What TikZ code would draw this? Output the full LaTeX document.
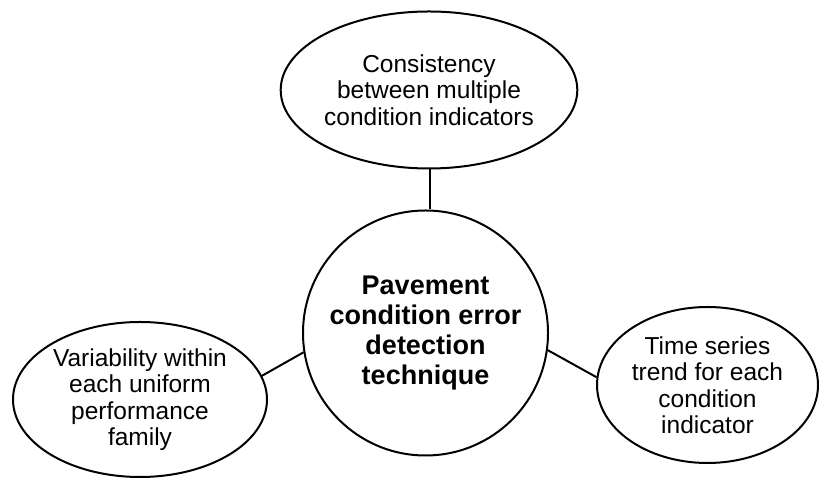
\documentclass[tikz,border=0pt]{standalone}
\usepackage{fontspec}
\setmainfont{Liberation Sans}
\usetikzlibrary{shapes.geometric}

\tikzset{
  outline/.style={draw=black, line width=2pt},
  bubble/.style={outline, ellipse, inner sep=0pt, align=center,
    font=\fontsize{24.5}{26.5}\selectfont},
  hubnode/.style={outline, circle, inner sep=0pt, align=center,
    minimum size=245pt, font=\bfseries\fontsize{27}{30}\selectfont},
  link/.style={outline}
}

\begin{document}
\begin{tikzpicture}[x=1pt, y=1pt]
  \useasboundingbox (0,0) rectangle (819,478);

  % central technique
  \node[hubnode] (hub) at (425.5,145)
    {Pavement\\condition error\\detection\\technique};

  % the three checks around it
  \node[bubble, minimum width=282pt, minimum height=157pt] (consist) at (429,388)
    {Consistency\\between multiple\\condition indicators};
  \node[bubble, minimum width=254pt, minimum height=155pt] (variab) at (140,78.5)
    {Variability within\\each uniform\\performance\\family};
  \node[bubble, minimum width=221pt, minimum height=156pt] (trend) at (707.5,93)
    {Time series\\trend for each\\condition\\indicator};

  % connectors
  \draw[link] (consist.south -| 430,0) -- (hub.north -| 430,0);
  \draw[link] (variab.11) -- (hub.189);
  \draw[link] (hub.352.5) -- (trend.176);
\end{tikzpicture}
\end{document}
